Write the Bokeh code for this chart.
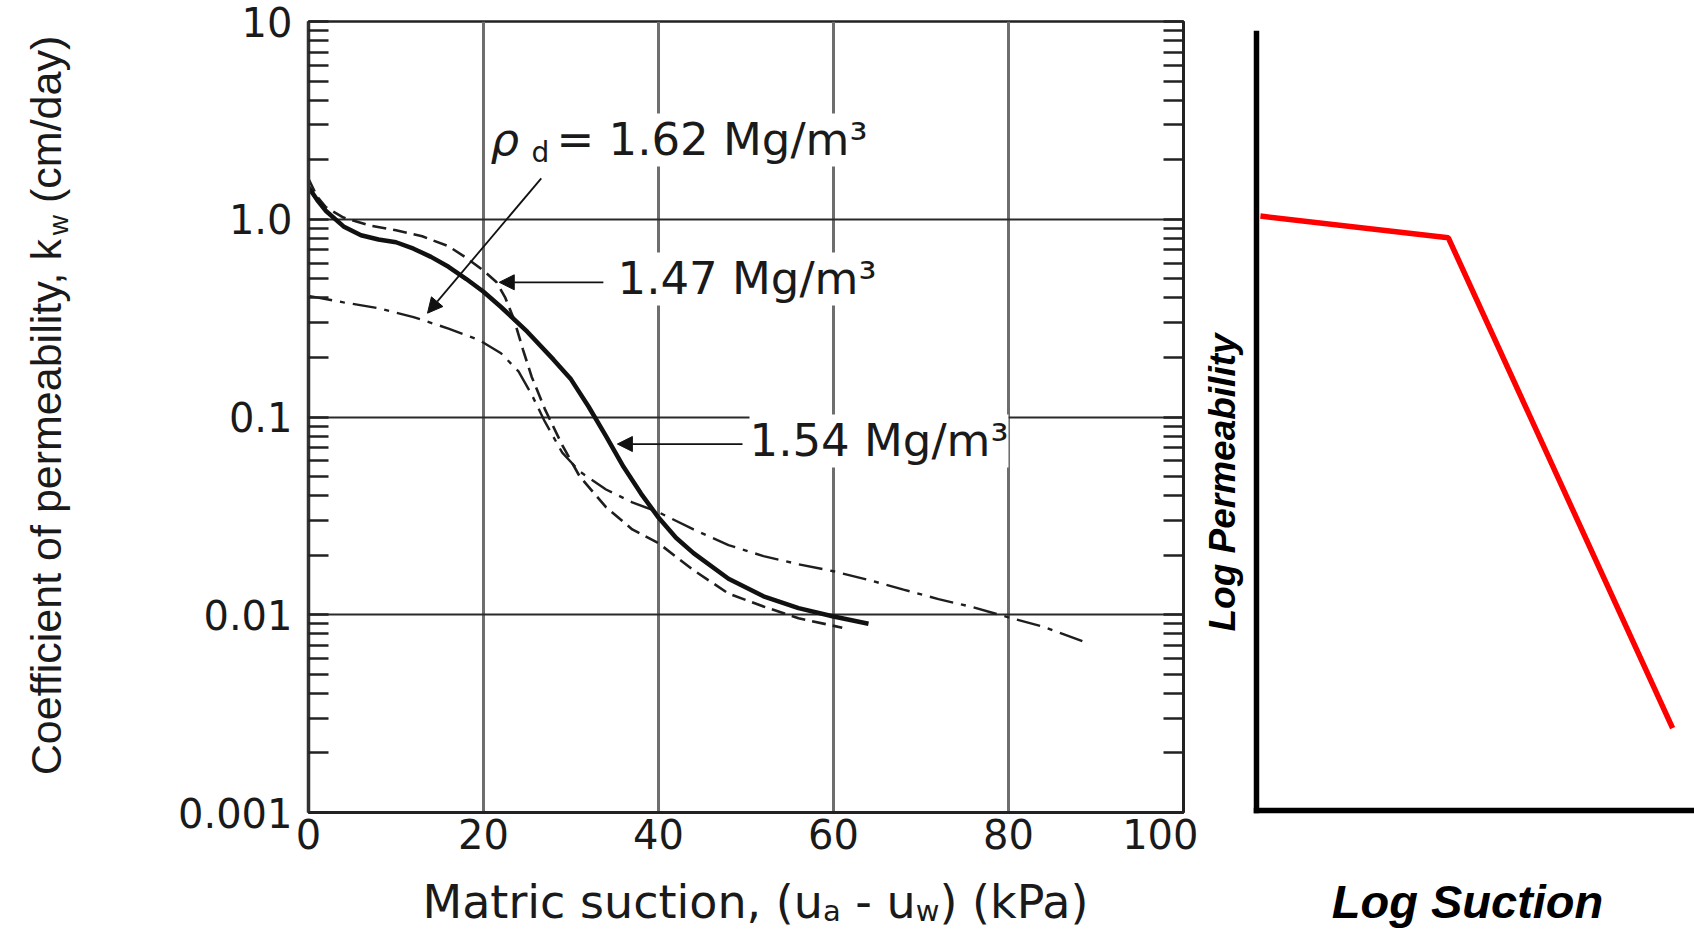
import glob
import math
from bokeh.plotting import figure
from bokeh.models import Range1d, FixedTicker, LogAxis, Label, Arrow, NormalHead
from bokeh.layouts import row, column
from bokeh.embed import file_html
from bokeh.resources import INLINE

# ---------------- data ----------------
suction_162 = [0, 4, 8, 12, 16, 19.5, 22, 24, 25.5, 27, 29, 31, 34, 37, 40, 44, 48, 52, 56, 60, 64, 68, 72, 76, 80, 84, 89]
k_162 = [0.41, 0.38, 0.355, 0.32, 0.28, 0.245, 0.21, 0.17, 0.13, 0.095, 0.066, 0.053, 0.043, 0.037, 0.033, 0.027,
         0.0225, 0.0198, 0.018, 0.0166, 0.015, 0.0134, 0.012, 0.0109, 0.0097, 0.0087, 0.0072]

suction_147 = [0, 1, 2, 4, 7, 10, 13, 16, 18, 20, 21.5, 22.5, 23.5, 24.5, 25.5, 27, 29, 31, 34, 37, 40, 44, 48, 52, 56, 61]
k_147 = [1.6, 1.3, 1.15, 1.02, 0.93, 0.88, 0.82, 0.73, 0.64, 0.55, 0.48, 0.40, 0.31, 0.22, 0.16, 0.11, 0.072, 0.05,
         0.035, 0.027, 0.023, 0.0168, 0.0128, 0.011, 0.0096, 0.0086]

suction_154 = [0, 1, 2, 4, 6, 8, 10, 12, 14, 16, 18, 20, 22, 25, 28, 30, 32, 34, 36, 38, 40, 42, 44, 48, 52, 56, 60, 64]
k_154 = [1.45, 1.25, 1.1, 0.92, 0.83, 0.79, 0.765, 0.71, 0.645, 0.575, 0.5, 0.43, 0.36, 0.27, 0.195, 0.155, 0.113,
         0.08, 0.056, 0.041, 0.031, 0.0245, 0.0205, 0.0152, 0.0124, 0.0108, 0.0098, 0.009]

# pointer arrows: (suction start, k start, suction end, k end)
arrow_162 = [26.6, 1.61, 13.6, 0.335]
arrow_147 = [33.7, 0.48, 21.8, 0.48]
arrow_154 = [49.6, 0.073, 35.3, 0.073]

x_ticks = [0, 20, 40, 60, 80, 100]
x_tick_labels = ["0", "20", "40", "60", "80", "100"]
y_ticks = [0.001, 0.01, 0.1, 1.0, 10.0]
y_tick_labels = ["0.001", "0.01", "0.1", "1.0", "10"]

# schematic (right panel), unit axes
schem_log_suction = [0.009, 0.438, 0.950]
schem_log_perm = [0.765, 0.737, 0.106]

# ---------------- helpers ----------------
DV = {' ': .318, '(': .390, ')': .390, ',': .318, '-': .361, 'M': .863, 'P': .603, 'a': .613, 'c': .550,
      'i': .278, 'k': .579, 'n': .634, 'o': .612, 'r': .411, 's': .521, 't': .392, 'u': .634, 'w': .818}
AR = {'C': .722, 'o': .556, 'e': .556, 'f': .278, 'i': .222, 'c': .5, 'n': .556, 't': .278, ' ': .278,
      'p': .556, 'r': .333, 'm': .833, 'a': .556, 'b': .556, 'l': .222, 'y': .5, ',': .278, 'k': .5,
      'w': .722, '(': .333, ')': .333, '/': .278, 'd': .556}
MID = 0.345   # baseline -> vertical middle of the text box, in em


def tw(s, table, size, factor=1.0):
    return sum(table.get(c, 0.55) for c in s) * size * factor


narrow = False
for d in ["/usr/share/fonts", "/usr/local/share/fonts"]:
    for f in glob.glob(d + "/**/*", recursive=True):
        if "LiberationSansNarrow" in f.replace("-", "").replace(" ", ""):
            narrow = True

TXT = "#1a1a1a"
H = 930          # total height
YW = 98          # y-title strip width
LW = 1100        # left plot width
LH = 866         # left plot height
XH = H - LH      # x-title strip height
RW = 496         # right column width
RYW = 52         # strip for "Log Permeability"

# left panel frame in page pixels
FL, FR, FT, FB = 308, 1183, 21, 812


def lx(px):
    return (px - FL) / (FR - FL) * 100


def ly(py):
    return 10 ** (1 - (py - FT) / (FB - FT) * 4)


def noalign(f):
    try:
        f.frame_align = False
    except AttributeError:
        pass
    return f


def lab(fig, x, y, text, size, font="DejaVu Sans", style="normal", align="left", angle=0.0, bg=None, color=TXT):
    kw = dict(x=x, y=y, text=text, text_font=font, text_font_size=f"{size}px",
              text_font_style=style, text_align=align, text_baseline="middle",
              text_color=color, angle=angle)
    if bg is not None:
        kw["background_fill_color"] = bg
    fig.add_layout(Label(**kw))


def strip(w, h):
    f = figure(width=w, height=h, x_range=Range1d(0, w), y_range=Range1d(0, h), output_backend="svg",
               toolbar_location=None, x_axis_location=None, y_axis_location=None, min_border=0)
    f.outline_line_color = None
    f.background_fill_color = "white"
    f.border_fill_color = "white"
    for g in f.grid:
        g.visible = False
    return noalign(f)


# ---------------- left plot ----------------
p = figure(width=LW, height=LH, x_range=Range1d(0, 100), y_range=Range1d(0.001, 10), y_axis_type="log",
           output_backend="svg", toolbar_location=None,
           min_border_left=FL - YW, min_border_right=YW + LW - FR, min_border_top=FT,
           min_border_bottom=LH - FB)
noalign(p)
p.background_fill_color = "white"
p.border_fill_color = "white"
p.outline_line_color = "#222222"
p.outline_line_width = 2.5

minor = [m * 10 ** e for e in range(-3, 1) for m in range(2, 10)]

xa = p.xaxis[0]
xa.ticker = FixedTicker(ticks=x_ticks)
xa.major_label_overrides = dict(zip(x_ticks, x_tick_labels))
xa.major_tick_in = 0
xa.major_tick_out = 0
xa.minor_tick_in = 0
xa.minor_tick_out = 0
xa.minor_tick_line_color = None
xa.axis_line_width = 3
xa.axis_line_color = "#222222"
xa.major_label_text_font = "DejaVu Sans"
xa.major_label_text_font_size = "40px"
xa.major_label_text_color = TXT
xa.major_label_standoff = 6

ya = p.yaxis[0]
ya.ticker = FixedTicker(ticks=y_ticks, minor_ticks=minor)
ya.major_label_overrides = dict(zip(y_ticks, y_tick_labels))
ya.major_tick_in = 20
ya.major_tick_out = 0
ya.minor_tick_in = 20
ya.minor_tick_out = 0
ya.major_tick_line_width = 2.5
ya.minor_tick_line_width = 2.5
ya.major_tick_line_color = "#222222"
ya.minor_tick_line_color = "#222222"
ya.axis_line_width = 3.5
ya.axis_line_color = "#333333"
ya.major_label_text_font = "DejaVu Sans"
ya.major_label_text_font_size = "40px"
ya.major_label_text_color = TXT
ya.major_label_standoff = 16

ra = LogAxis(ticker=FixedTicker(ticks=y_ticks, minor_ticks=minor), major_label_text_font_size="1px",
             major_label_text_color=None,
             major_tick_in=20, major_tick_out=0, minor_tick_in=20, minor_tick_out=0,
             major_tick_line_width=2.5, minor_tick_line_width=2.5, axis_line_width=3,
             major_tick_line_color="#222222", minor_tick_line_color="#222222", axis_line_color="#222222",
             major_label_standoff=0)
p.add_layout(ra, "right")

p.xgrid.ticker = FixedTicker(ticks=x_ticks[1:-1])
p.xgrid.grid_line_color = "#6e6e6e"
p.xgrid.grid_line_width = 3
p.ygrid.ticker = FixedTicker(ticks=y_ticks[1:-1])
p.ygrid.grid_line_color = "#2a2a2a"
p.ygrid.grid_line_width = 1.8

p.line(suction_162, k_162, line_color="#1e1e1e", line_width=2.4, line_dash="24 8 5 8")
p.line(suction_147, k_147, line_color="#1e1e1e", line_width=2.6, line_dash="14 7")
p.line(suction_154, k_154, line_color="#111111", line_width=4.5)

for a in (arrow_162, arrow_147, arrow_154):
    p.add_layout(Arrow(end=NormalHead(size=15, fill_color="#111111", line_color="#111111", line_width=1),
                       x_start=a[0], y_start=a[1], x_end=a[2], y_end=a[3],
                       line_color="#111111", line_width=1.8))

LS = 45
lab(p, lx(490), ly(155 - MID * LS), "ρ", LS, style="italic", bg="white")
lab(p, lx(531), ly(162 - MID * 28), "d", 28, bg="white")
lab(p, lx(556), ly(155 - MID * LS), "= 1.62 Mg/m³", LS, bg="white")
lab(p, lx(617), ly(294 - MID * LS), "1.47 Mg/m³", LS, bg="white")
lab(p, lx(749), ly(456 - MID * LS), "1.54 Mg/m³", LS, bg="white")

# ---------------- y-title strip ----------------
ys = strip(YW, H)
if narrow:
    YF, YS, YFAC, YB = "Liberation Sans Narrow", 52, 0.82, 62
else:
    YF, YS, YFAC, YB = "Liberation Sans", 43, 1.0, 60
YSUB = round(YS * 0.64)
yparts = [("Coefficient of permeability, k", YS, 0), ("w", YSUB, 8), (" (cm/day)", YS, 0)]
tot = sum(tw(s, AR, sz, YFAC) for s, sz, _ in yparts)
cy = 405 + tot / 2          # page y where the text starts
for s, sz, dx in yparts:
    body = s.lstrip(" ")
    cy -= tw(s[:len(s) - len(body)], AR, sz, YFAC)
    lab(ys, YB + dx - MID * sz, H - cy, body, sz, font=YF, angle=math.pi / 2)
    cy -= tw(body, AR, sz, YFAC)

# ---------------- x-title strip ----------------
xs = strip(LW, XH)
X0, Y0 = YW, LH            # page origin of strip
XS, XSUB = 46, 29
XB = 917                   # baseline (page y)
xparts = [("Matric suction, (u", XS, 0), ("a", XSUB, 4), (" - u", XS, 0), ("w", XSUB, 4), (") (kPa)", XS, 0)]
tot = sum(tw(s, DV, sz) for s, sz, _ in xparts)
cx = 756 - tot / 2
for s, sz, dy in xparts:
    body = s.lstrip(" ")
    cx += tw(s[:len(s) - len(body)], DV, sz)
    lab(xs, cx - X0, XH - (XB + dy - MID * sz - Y0), body, sz)
    cx += tw(body, DV, sz)

# ---------------- right schematic panel ----------------
RMW = RW - RYW
R0 = YW + LW               # page x of right column
r = figure(width=RMW, height=LH, x_range=Range1d(0, 1), y_range=Range1d(0, 1), output_backend="svg",
           toolbar_location=None, min_border_left=1256 - R0 - RYW, min_border_right=0, min_border_top=33,
           min_border_bottom=LH - 810)
noalign(r)
r.background_fill_color = "white"
r.border_fill_color = "white"
r.outline_line_color = None
r.grid.visible = False
for ax in (r.xaxis[0], r.yaxis[0]):
    ax.ticker = FixedTicker(ticks=[])
    ax.axis_line_width = 5.5
    ax.axis_line_color = "black"
    ax.axis_line_cap = "square"
    ax.major_tick_in = 0
    ax.major_tick_out = 0
    ax.minor_tick_in = 0
    ax.minor_tick_out = 0
    ax.major_tick_line_color = None
    ax.minor_tick_line_color = None
    ax.major_label_text_font_size = "1px"
    ax.major_label_text_color = None
    ax.major_label_standoff = 0

r.line(schem_log_suction, schem_log_perm, line_color="#ff0000", line_width=5.5)

ry_strip = strip(RYW, LH)
lab(ry_strip, 1235 - MID * 37 - R0, LH - 482, "Log Permeability", 37, font="Liberation Sans",
    style="bold italic", align="center", angle=math.pi / 2, color="black")

rx_strip = strip(RW, XH)
lab(rx_strip, 1467 - R0, XH - (917 - MID * 47 - Y0), "Log Suction", 47, font="Liberation Sans",
    style="bold italic", align="center", color="black")

layout = row(ys, column(p, xs), column(row(ry_strip, r), rx_strip))
open("out.html", "w").write(file_html(layout, INLINE))
